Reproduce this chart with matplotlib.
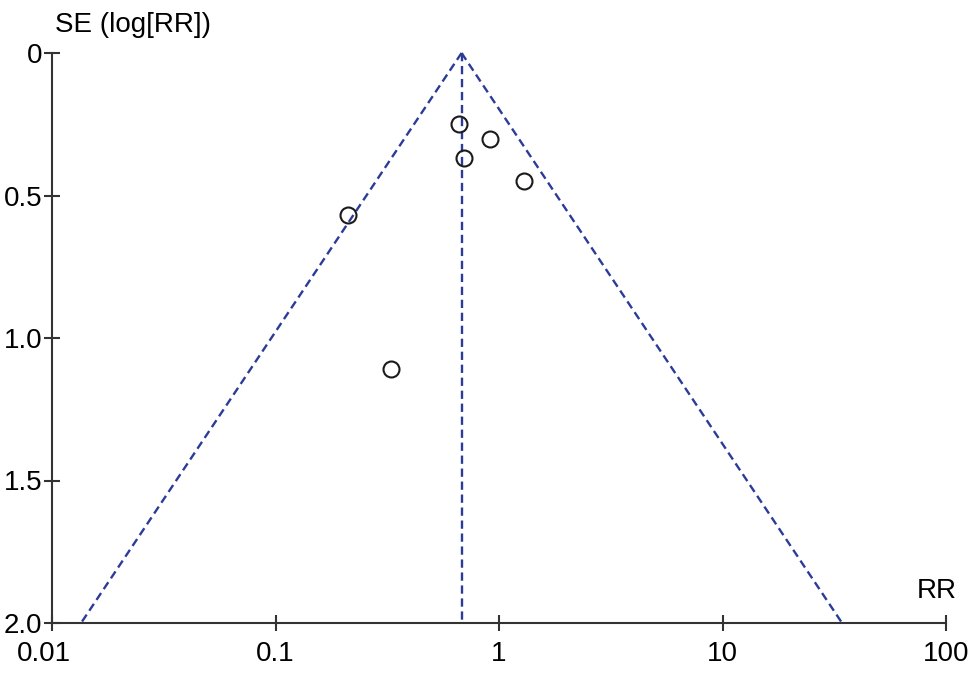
import matplotlib
matplotlib.use('Agg')
import matplotlib.pyplot as plt
import matplotlib.transforms as mtransforms
import numpy as np

plt.rcParams['font.family'] = ['Liberation Sans', 'DejaVu Sans']

# study estimates
rr = [0.66, 0.91, 0.70, 1.29, 0.21, 0.33]
se = [0.25, 0.30, 0.37, 0.45, 0.57, 1.11]

pooled_rr = 0.68
se_range = [0.0, 2.0]

x_ticks = [0.01, 0.1, 1, 10, 100]
x_ticklabels = ['0.01', '0.1', '1', '10', '100']
y_ticks = [0, 0.5, 1.0, 1.5, 2.0]
y_ticklabels = ['0', '0.5', '1.0', '1.5', '2.0']

axis_col = '#333333'
line_col = '#2b3b98'

fig = plt.figure(figsize=(9.74, 6.75), dpi=100)
ax = fig.add_axes([52/974, 1 - 623/675, (946 - 52)/974, (623 - 53)/675])

# funnel: pooled estimate +/- 1.96 SE on the log scale
se_arr = np.array(se_range)
lower = pooled_rr * np.exp(-1.96 * se_arr)
upper = pooled_rr * np.exp(1.96 * se_arr)
dash = (0, (3.5, 2.0))
ax.plot(lower, se_arr, ls=dash, color=line_col, lw=1.7, clip_on=False)
ax.plot(upper, se_arr, ls=dash, color=line_col, lw=1.7, clip_on=False)
ax.plot([pooled_rr, pooled_rr], se_range, ls=dash, color=line_col, lw=1.7, clip_on=False)

ax.plot(rr, se, 'o', ms=11.5, mfc='none', mec='#1a1a1a', mew=1.5, clip_on=False)

ax.set_xscale('log')
ax.set_xlim(0.01, 100)
ax.set_ylim(2.0, 0)
ax.set_xticks(x_ticks)
ax.set_xticklabels(x_ticklabels)
ax.xaxis.set_minor_locator(matplotlib.ticker.NullLocator())
ax.set_yticks(y_ticks)
ax.set_yticklabels(y_ticklabels)

for s in ['top', 'right']:
    ax.spines[s].set_visible(False)
for s in ['left', 'bottom']:
    ax.spines[s].set_color(axis_col)
    ax.spines[s].set_linewidth(1.5)

ax.tick_params(axis='x', direction='inout', length=12, width=1.5, color=axis_col,
               labelsize=20, pad=7)
ax.tick_params(axis='y', direction='inout', length=12, width=1.5, color=axis_col,
               labelsize=20, pad=1)

# first x label sits a bit left of its tick
lab0 = ax.get_xticklabels()[0]
lab0.set_transform(lab0.get_transform() + mtransforms.ScaledTranslation(-8/100, 0, fig.dpi_scale_trans))

fig.text(55/974, 1 - 25/675, 'SE (log[RR])', fontsize=20, ha='left', va='center')
fig.text(957/974, 1 - 591/675, 'RR', fontsize=20, ha='right', va='center')

fig.savefig('out.png', dpi=100)
